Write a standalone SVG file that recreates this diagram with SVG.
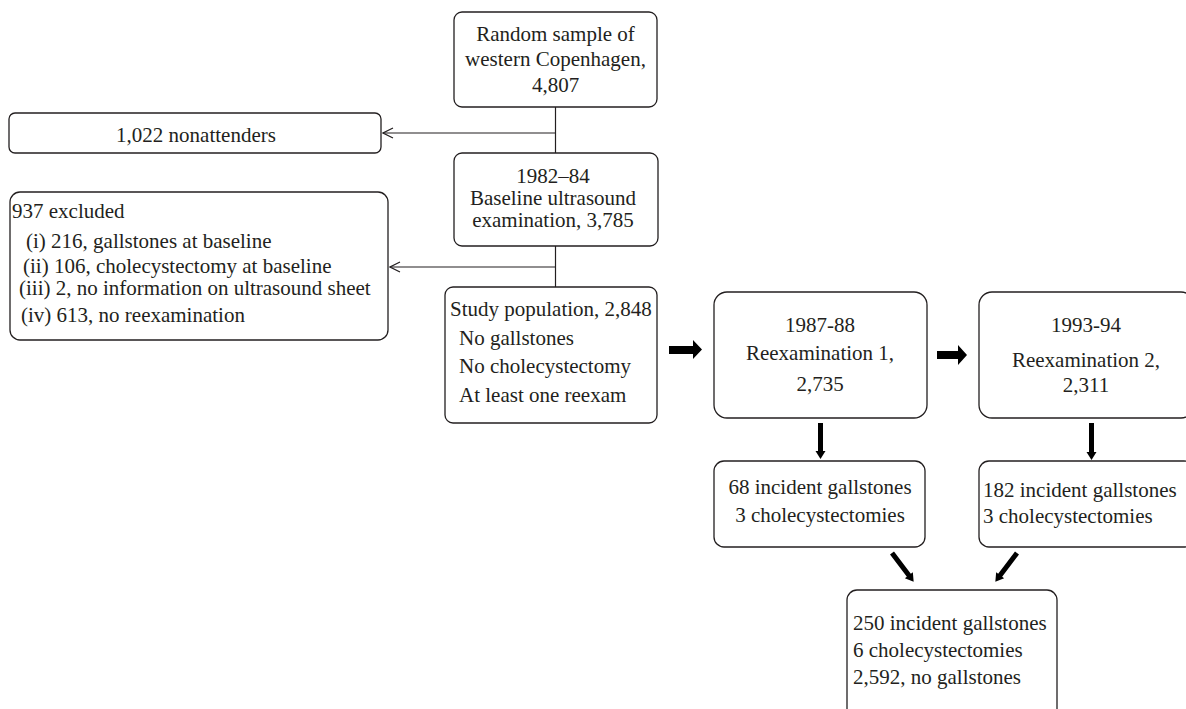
<svg xmlns="http://www.w3.org/2000/svg" width="1186" height="709" viewBox="0 0 1186 709">
<defs>
<style>
.box{fill:#fff;stroke:#231f20;stroke-width:1.3}
.t{font-family:"Liberation Serif","Times New Roman",serif;font-size:21px;fill:#231f20}
.c{text-anchor:middle}
.ln{stroke:#231f20;stroke-width:1.2;fill:none}
.thick{fill:#000}
</style>
<marker id="open" markerWidth="12" markerHeight="12" refX="11" refY="6" orient="auto" markerUnits="userSpaceOnUse">
<path d="M1,1 L11,6 L1,11" fill="none" stroke="#231f20" stroke-width="1.2"/>
</marker>
</defs>
<rect width="1186" height="709" fill="#fff"/>
<g id="connectors">
<line class="ln" x1="555.5" y1="107" x2="555.5" y2="153"/>
<line class="ln" x1="555.5" y1="133" x2="383" y2="133" marker-end="url(#open)"/>
<line class="ln" x1="555.5" y1="246" x2="555.5" y2="287"/>
<line class="ln" x1="555.5" y1="267" x2="390" y2="267" marker-end="url(#open)"/>
<path class="thick" d="M669,346 L693,346 L693,340 L702,349.5 L693,359 L693,354 L669,354 Z"/>
<path class="thick" d="M937,351 L958,351 L958,345 L967,355 L958,365 L958,359 L937,359 Z"/>
<path class="thick" d="M818,423 L823,423 L823,451 L825.5,451 L820.5,459 L815.5,451 L818,451 Z"/>
<path class="thick" d="M1089,423 L1094,423 L1094,452 L1096.5,452 L1091.5,460 L1086.5,452 L1089,452 Z"/>
<g transform="translate(892,553) rotate(-37)">
<path class="thick" d="M-2.5,0 L2.5,0 L2.5,28 L5,28 L0,36 L-5,28 L-2.5,28 Z"/>
</g>
<g transform="translate(1017,553) rotate(37)">
<path class="thick" d="M-2.5,0 L2.5,0 L2.5,28 L5,28 L0,36 L-5,28 L-2.5,28 Z"/>
</g>
</g>
<g id="n-random">
<rect class="box" x="454" y="12" width="203" height="95" rx="8"/>
<text class="t c" x="555.5" y="41">Random sample of</text>
<text class="t c" x="555.5" y="66">western Copenhagen,</text>
<text class="t c" x="555.5" y="92">4,807</text>
</g>
<g id="n-nonattenders">
<rect class="box" x="9" y="113" width="372" height="40" rx="6"/>
<text class="t c" x="196" y="142">1,022 nonattenders</text>
</g>
<g id="n-baseline">
<rect class="box" x="454" y="153" width="204" height="93" rx="8"/>
<text class="t c" x="553" y="183">1982–84</text>
<text class="t c" x="553" y="205">Baseline ultrasound</text>
<text class="t c" x="553" y="227">examination, 3,785</text>
</g>
<g id="n-excluded">
<rect class="box" x="10" y="192" width="378" height="148" rx="10"/>
<text class="t" x="12" y="218">937 excluded</text>
<text class="t" x="26" y="248">(i) 216, gallstones at baseline</text>
<text class="t" x="23" y="273">(ii) 106, cholecystectomy at baseline</text>
<text class="t" x="19" y="295">(iii) 2, no information on ultrasound sheet</text>
<text class="t" x="21" y="322">(iv) 613, no reexamination</text>
</g>
<g id="n-study">
<rect class="box" x="445" y="287" width="212" height="136" rx="8"/>
<text class="t" x="450" y="316">Study population, 2,848</text>
<text class="t" x="459" y="345">No gallstones</text>
<text class="t" x="459" y="373">No cholecystectomy</text>
<text class="t" x="459" y="402">At least one reexam</text>
</g>
<g id="n-reexam1">
<rect class="box" x="714" y="292" width="213" height="126" rx="13"/>
<text class="t c" x="820" y="332">1987-88</text>
<text class="t c" x="820" y="360">Reexamination 1,</text>
<text class="t c" x="820" y="391">2,735</text>
</g>
<g id="n-reexam2">
<rect class="box" x="979" y="292" width="215" height="126" rx="13"/>
<text class="t c" x="1086" y="332">1993-94</text>
<text class="t c" x="1086" y="367">Reexamination 2,</text>
<text class="t c" x="1086" y="392">2,311</text>
</g>
<g id="n-inc1">
<rect class="box" x="714" y="461" width="211" height="86" rx="10"/>
<text class="t c" x="820" y="494">68 incident gallstones</text>
<text class="t c" x="820" y="522">3 cholecystectomies</text>
</g>
<g id="n-inc2">
<rect class="box" x="979" y="461" width="215" height="86" rx="10"/>
<text class="t" x="983" y="497">182 incident gallstones</text>
<text class="t" x="983" y="523">3 cholecystectomies</text>
</g>
<g id="n-total">
<rect class="box" x="847" y="590" width="210" height="140" rx="10"/>
<text class="t" x="853" y="630">250 incident gallstones</text>
<text class="t" x="853" y="657">6 cholecystectomies</text>
<text class="t" x="853" y="684">2,592, no gallstones</text>
</g>
</svg>
